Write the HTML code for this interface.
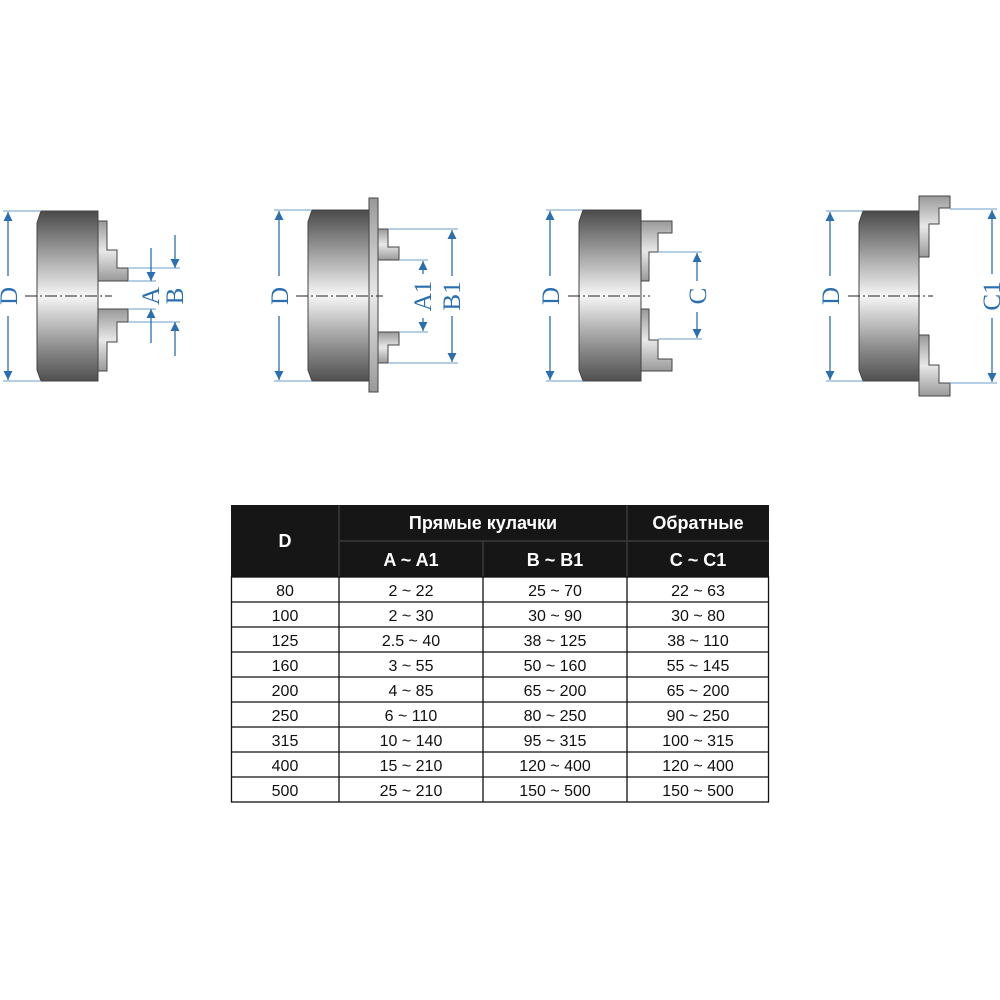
<!DOCTYPE html>
<html><head><meta charset="utf-8"><style>
html,body{margin:0;padding:0;background:#fff;}
svg{display:block}
</style></head><body>
<svg width="1000" height="1000" viewBox="0 0 1000 1000" xmlns="http://www.w3.org/2000/svg">
<defs>
<linearGradient id="bg" x1="0" y1="0" x2="0" y2="1">
<stop offset="0" stop-color="#4a4a4a"/><stop offset="0.2" stop-color="#8e8e8e"/><stop offset="0.5" stop-color="#f6f6f6"/><stop offset="0.8" stop-color="#8e8e8e"/><stop offset="1" stop-color="#505050"/>
</linearGradient>
<linearGradient id="jg" x1="0" y1="0" x2="0" y2="1">
<stop offset="0" stop-color="#999"/><stop offset="0.5" stop-color="#e8e8e8"/><stop offset="1" stop-color="#999"/>
</linearGradient>
<marker id="ar" viewBox="0 0 10 10" refX="10" refY="5" markerWidth="9" markerHeight="13" orient="auto-start-reverse" markerUnits="userSpaceOnUse"><path d="M0,0 L10,5 L0,10 z" fill="#2a6fb0"/></marker>
</defs>
<g stroke="#444" stroke-width="1">
<path d="M41,211 H98 V381 H41 L37,370 V223 Z" fill="url(#bg)"/>
<path d="M98,221 H107 V250 H117 V268 H128 V281 H98 Z" fill="url(#jg)"/>
<path d="M98,371 H107 V342 H117 V322 H128 V309 H98 Z" fill="url(#jg)"/>
<path d="M312,210 H369 V381 H312 L308,370 V222 Z" fill="url(#bg)"/>
<rect x="369" y="198" width="9" height="194" fill="url(#jg)"/>
<path d="M378,229 H388 V247 H399 V260 H378 Z" fill="url(#jg)"/>
<path d="M378,363 H388 V345 H399 V332 H378 Z" fill="url(#jg)"/>
<path d="M583,210 H641 V381 H583 L579,370 V222 Z" fill="url(#bg)"/>
<path d="M641,221 H672 V233 H658 V252 H649 V281 H641 Z" fill="url(#jg)"/>
<path d="M641,371 H672 V359 H658 V340 H649 V309 H641 Z" fill="url(#jg)"/>
<path d="M863,211 H919 V381 H863 L859,370 V223 Z" fill="url(#bg)"/>
<path d="M919,196 H950 V208 H939 V224 H929 V257 H919 Z" fill="url(#jg)"/>
<path d="M919,396 H950 V383 H939 V365 H929 V335 H919 Z" fill="url(#jg)"/>
</g>
<g stroke="#222" stroke-width="1" stroke-dasharray="12,3,2,3">
<line x1="25" y1="296" x2="112" y2="296"/>
<line x1="296" y1="296" x2="383" y2="296"/>
<line x1="568" y1="296" x2="650" y2="296"/>
<line x1="848" y1="296" x2="933" y2="296"/>
</g>
<g stroke="#6a9ccc" stroke-width="1">
<line x1="3" y1="211" x2="41" y2="211"/><line x1="3" y1="381" x2="41" y2="381"/>
<line x1="128" y1="281" x2="156" y2="281"/><line x1="128" y1="309" x2="156" y2="309"/>
<line x1="128" y1="268" x2="180" y2="268"/><line x1="128" y1="322" x2="180" y2="322"/>
<line x1="274" y1="210" x2="312" y2="210"/><line x1="274" y1="381" x2="312" y2="381"/>
<line x1="399" y1="260" x2="428" y2="260"/><line x1="399" y1="332" x2="428" y2="332"/>
<line x1="388" y1="229" x2="458" y2="229"/><line x1="388" y1="363" x2="458" y2="363"/>
<line x1="546" y1="210" x2="583" y2="210"/><line x1="546" y1="381" x2="583" y2="381"/>
<line x1="658" y1="252" x2="702" y2="252"/><line x1="658" y1="339" x2="702" y2="339"/>
<line x1="826" y1="211" x2="863" y2="211"/><line x1="826" y1="381" x2="863" y2="381"/>
<line x1="950" y1="209" x2="997" y2="209"/><line x1="950" y1="383" x2="997" y2="383"/>
</g>
<g stroke="#2a6fb0" stroke-width="1.3">
<line x1="8" y1="276" x2="8" y2="212" marker-end="url(#ar)"/><line x1="8" y1="316" x2="8" y2="380" marker-end="url(#ar)"/>
<line x1="151" y1="248" x2="151" y2="281" marker-end="url(#ar)"/><line x1="151" y1="343" x2="151" y2="309" marker-end="url(#ar)"/>
<line x1="175" y1="235" x2="175" y2="268" marker-end="url(#ar)"/><line x1="175" y1="356" x2="175" y2="322" marker-end="url(#ar)"/>
<line x1="279" y1="276" x2="279" y2="211" marker-end="url(#ar)"/><line x1="279" y1="316" x2="279" y2="380" marker-end="url(#ar)"/>
<line x1="423" y1="274" x2="423" y2="261" marker-end="url(#ar)"/><line x1="423" y1="318" x2="423" y2="331" marker-end="url(#ar)"/>
<line x1="452" y1="276" x2="452" y2="230" marker-end="url(#ar)"/><line x1="452" y1="316" x2="452" y2="362" marker-end="url(#ar)"/>
<line x1="550" y1="276" x2="550" y2="211" marker-end="url(#ar)"/><line x1="550" y1="316" x2="550" y2="380" marker-end="url(#ar)"/>
<line x1="697" y1="281" x2="697" y2="253" marker-end="url(#ar)"/><line x1="697" y1="312" x2="697" y2="338" marker-end="url(#ar)"/>
<line x1="830" y1="276" x2="830" y2="212" marker-end="url(#ar)"/><line x1="830" y1="316" x2="830" y2="380" marker-end="url(#ar)"/>
<line x1="992" y1="274" x2="992" y2="210" marker-end="url(#ar)"/><line x1="992" y1="318" x2="992" y2="382" marker-end="url(#ar)"/>
</g>
<g fill="#2a6fb0" font-family="Liberation Serif, serif" font-size="25" text-anchor="middle">
<text transform="translate(17,296) rotate(-90)">D</text>
<text transform="translate(159,296) rotate(-90)">A</text>
<text transform="translate(183,296) rotate(-90)">B</text>
<text transform="translate(288,296) rotate(-90)">D</text>
<text transform="translate(431,296) rotate(-90)">A1</text>
<text transform="translate(460,296) rotate(-90)">B1</text>
<text transform="translate(559,296) rotate(-90)">D</text>
<text transform="translate(706,296) rotate(-90)">C</text>
<text transform="translate(839,296) rotate(-90)">D</text>
<text transform="translate(1000,296) rotate(-90)">C1</text>
</g>
<rect x="231" y="505" width="538" height="72" fill="#161616"/>
<g stroke="#3a3a3a" stroke-width="1.5">
<line x1="339" y1="505" x2="339" y2="577"/>
<line x1="627" y1="505" x2="627" y2="577"/>
<line x1="483" y1="541" x2="483" y2="577"/>
<line x1="339" y1="541" x2="769" y2="541"/>
</g>
<g font-family="Liberation Sans, sans-serif" font-weight="bold" font-size="18" fill="#fff" text-anchor="middle">
<text x="285" y="547">D</text>
<text x="483" y="529">Прямые кулачки</text>
<text x="698" y="529">Обратные</text>
<text x="411" y="566">A ~ A1</text>
<text x="555" y="566">B ~ B1</text>
<text x="698" y="566">C ~ C1</text>
</g>
<g stroke="#111" stroke-width="1.3" fill="none">
<rect x="231.5" y="577" width="537" height="225"/>
<line x1="339" y1="577" x2="339" y2="802"/><line x1="483" y1="577" x2="483" y2="802"/><line x1="627" y1="577" x2="627" y2="802"/>
<line x1="231" y1="602" x2="769" y2="602"/><line x1="231" y1="627" x2="769" y2="627"/><line x1="231" y1="652" x2="769" y2="652"/><line x1="231" y1="677" x2="769" y2="677"/><line x1="231" y1="702" x2="769" y2="702"/><line x1="231" y1="727" x2="769" y2="727"/><line x1="231" y1="752" x2="769" y2="752"/><line x1="231" y1="777" x2="769" y2="777"/>
</g>
<g font-family="Liberation Sans, sans-serif" font-size="16" fill="#111" text-anchor="middle">
<text x="285" y="596">80</text><text x="411" y="596">2 ~ 22</text><text x="555" y="596">25 ~ 70</text><text x="698" y="596">22 ~ 63</text>
<text x="285" y="621">100</text><text x="411" y="621">2 ~ 30</text><text x="555" y="621">30 ~ 90</text><text x="698" y="621">30 ~ 80</text>
<text x="285" y="646">125</text><text x="411" y="646">2.5 ~ 40</text><text x="555" y="646">38 ~ 125</text><text x="698" y="646">38 ~ 110</text>
<text x="285" y="671">160</text><text x="411" y="671">3 ~ 55</text><text x="555" y="671">50 ~ 160</text><text x="698" y="671">55 ~ 145</text>
<text x="285" y="696">200</text><text x="411" y="696">4 ~ 85</text><text x="555" y="696">65 ~ 200</text><text x="698" y="696">65 ~ 200</text>
<text x="285" y="721">250</text><text x="411" y="721">6 ~ 110</text><text x="555" y="721">80 ~ 250</text><text x="698" y="721">90 ~ 250</text>
<text x="285" y="746">315</text><text x="411" y="746">10 ~ 140</text><text x="555" y="746">95 ~ 315</text><text x="698" y="746">100 ~ 315</text>
<text x="285" y="771">400</text><text x="411" y="771">15 ~ 210</text><text x="555" y="771">120 ~ 400</text><text x="698" y="771">120 ~ 400</text>
<text x="285" y="796">500</text><text x="411" y="796">25 ~ 210</text><text x="555" y="796">150 ~ 500</text><text x="698" y="796">150 ~ 500</text>
</g>
</svg>
</body></html>
